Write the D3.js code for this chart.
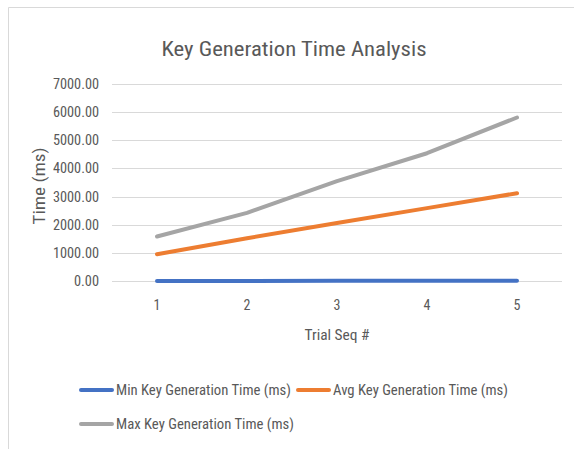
<!DOCTYPE html>
<html><head><meta charset="utf-8">
<script src="https://cdn.jsdelivr.net/npm/d3@7"></script>
<style>body{margin:0;background:#fff;} svg{display:block;}</style>
</head><body>
<script>
const categories = ["1","2","3","4","5"];
const minTimes = [4, 4, 5, 5, 6];
const avgTimes = [950, 1520, 2060, 2590, 3120];
const maxTimes = [1580, 2420, 3550, 4540, 5810];
const yTicks = [0,1000,2000,3000,4000,5000,6000,7000];
const seriesNames = ["Min Key Generation Time (ms)","Avg Key Generation Time (ms)","Max Key Generation Time (ms)"];
const colors = ["#4472c4","#ed7d31","#a5a5a5"];

const W = 574, H = 449;
const FONT = "'Liberation Sans Narrow','Roboto Condensed','Open Sans',sans-serif";
const svg = d3.select("body").append("svg").attr("width",W).attr("height",H);

// chart frame
svg.append("path").attr("d","M8.5,470V7.5H600").attr("fill","none").attr("stroke","#d9d9d9").attr("stroke-width",1);

const x = d3.scaleBand().domain(categories).range([112,562]);
const y = d3.scaleLinear().domain([0,7000]).range([281,84]);

// title
svg.append("text").attr("x",294).attr("y",56).attr("text-anchor","middle")
  .attr("font-family",FONT).attr("font-size",21).attr("fill","#595959")
  .attr("textLength",265).attr("lengthAdjust","spacingAndGlyphs")
  .text("Key Generation Time Analysis");

// gridlines
svg.append("g").selectAll("line").data(yTicks).join("line")
  .attr("x1",112).attr("x2",562).attr("y1",d=>Math.round(y(d))+0.5).attr("y2",d=>Math.round(y(d))+0.5)
  .attr("stroke","#d9d9d9").attr("stroke-width",1);

// y axis labels
const yAxis = d3.axisLeft(y).tickValues(yTicks).tickFormat(d=>d3.format(".2f")(d)).tickSize(0).tickPadding(0);
const gy = svg.append("g").attr("transform","translate(99,0)").call(yAxis);
gy.select(".domain").remove();
gy.selectAll("text").attr("font-family",FONT).attr("font-size",14).attr("fill","#595959")
  .attr("textLength",d=>d3.format(".2f")(d).length===7?46:25).attr("lengthAdjust","spacingAndGlyphs");

// x axis labels
const xAxis = d3.axisBottom(x).tickSize(0).tickPadding(0);
const gx = svg.append("g").attr("transform","translate(0,300)").call(xAxis);
gx.select(".domain").remove();
gx.selectAll("text").attr("font-family",FONT).attr("font-size",14).attr("fill","#595959").attr("dy","0.71em");

// axis titles
svg.append("text").attr("transform","translate(45,186) rotate(-90)").attr("text-anchor","middle")
  .attr("font-family",FONT).attr("font-size",16).attr("fill","#595959")
  .attr("textLength",77).attr("lengthAdjust","spacingAndGlyphs").text("Time (ms)");
svg.append("text").attr("x",337).attr("y",340).attr("text-anchor","middle")
  .attr("font-family",FONT).attr("font-size",15).attr("fill","#595959")
  .attr("textLength",65).attr("lengthAdjust","spacingAndGlyphs").text("Trial Seq #");

// lines
const line = d3.line().x((d,i)=>x(categories[i])+x.bandwidth()/2).y(d=>y(d));
[minTimes,avgTimes,maxTimes].forEach((s,k)=>{
  svg.append("path").datum(s).attr("d",line).attr("fill","none")
    .attr("stroke",colors[k]).attr("stroke-width",4).attr("stroke-linecap","round").attr("stroke-linejoin","round");
});

// legend
const legendItems = [
  {name:seriesNames[0], color:colors[0], lx:80, ly:390, tl:175},
  {name:seriesNames[1], color:colors[1], lx:297, ly:390, tl:175},
  {name:seriesNames[2], color:colors[2], lx:80, ly:424, tl:178}
];
const lg = svg.append("g").selectAll("g").data(legendItems).join("g");
lg.append("line").attr("x1",d=>d.lx+1).attr("x2",d=>d.lx+32).attr("y1",d=>d.ly).attr("y2",d=>d.ly)
  .attr("stroke",d=>d.color).attr("stroke-width",4).attr("stroke-linecap","round");
lg.append("text").attr("x",d=>d.lx+36).attr("y",d=>d.ly).attr("dy","0.35em")
  .attr("font-family",FONT).attr("font-size",14).attr("fill","#595959")
  .attr("textLength",d=>d.tl).attr("lengthAdjust","spacingAndGlyphs").text(d=>d.name);
</script>
</body></html>
